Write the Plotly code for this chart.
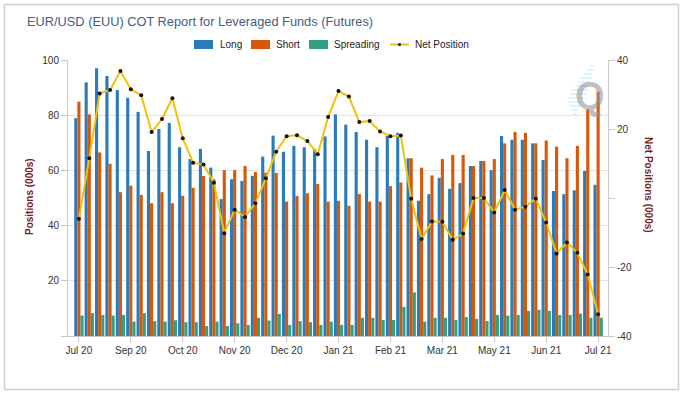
import plotly.graph_objects as go

tick_labels = ["Jul 20", "Sep 20", "Oct 20", "Nov 20", "Dec 20", "Jan 21",
               "Feb 21", "Mar 21", "May 21", "Jun 21", "Jul 21"]

long_vals = [78.9, 91.9, 97.0, 94.2, 89.1, 86.3, 81.2, 67.0, 75.0, 77.2,
             68.4, 64.1, 67.8, 61.0, 49.6, 56.8, 56.2, 58.0, 65.0, 72.6,
             66.8, 68.9, 68.4, 67.8, 72.3, 80.3, 76.6, 73.9, 71.1, 68.4,
             72.5, 73.6, 64.4, 49.0, 51.4, 57.3, 53.3, 55.4, 61.6, 63.4,
             60.1, 72.5, 71.1, 71.1, 69.8, 63.8, 52.5, 51.4, 52.8, 59.8,
             54.8]
short_vals = [84.9, 80.3, 66.5, 62.4, 52.1, 54.5, 51.1, 48.1, 52.1, 48.1,
              50.8, 53.7, 58.0, 56.8, 60.1, 60.1, 61.6, 59.4, 59.2, 59.1,
              48.7, 50.7, 51.7, 55.1, 48.7, 49.0, 47.2, 51.4, 48.7, 48.7,
              54.3, 55.6, 64.4, 61.0, 58.2, 64.1, 65.6, 65.6, 61.6, 63.4,
              64.1, 69.8, 73.9, 73.6, 69.8, 70.8, 68.6, 64.4, 68.9, 82.2,
              88.5]
spread_vals = [7.4, 8.3, 7.6, 7.4, 7.6, 5.2, 8.3, 5.4, 5.2, 5.7,
               5.0, 5.0, 3.6, 5.2, 3.6, 4.6, 4.0, 6.6, 5.6, 8.0,
               4.0, 5.4, 5.0, 4.0, 5.2, 4.0, 4.0, 6.6, 6.6, 5.8,
               5.8, 10.5, 15.8, 5.2, 6.6, 6.6, 5.8, 6.9, 6.2, 5.4,
               7.6, 7.4, 7.6, 9.1, 9.5, 9.1, 7.6, 7.6, 8.1, 6.6,
               6.6]
net_vals = [-6.0, 11.5, 30.3, 31.3, 36.8, 31.5, 29.8, 19.1, 22.9, 28.9,
            17.3, 10.2, 9.7, 4.4, -10.2, -3.4, -5.5, -1.5, 5.7, 13.4,
            17.9, 18.2, 16.5, 12.7, 23.5, 31.0, 29.4, 22.0, 22.3, 19.3,
            17.9, 18.1, -0.2, -11.9, -6.8, -6.9, -12.1, -10.3, 0.0, 0.0,
            -4.2, 2.3, -3.4, -2.5, -0.2, -7.1, -16.1, -12.9, -15.9, -22.2,
            -33.7]

series_names = ["Long", "Short", "Spreading", "Net Position"]
series_colors = ["#2b7bba", "#d75808", "#32a082", "#f2c10a"]

n = len(long_vals)
xs = list(range(n))
tick_idx = list(range(0, n, 5))

W, H = 682, 394
L, R, T, B = 68, 608, 60, 336
pw, ph = R - L, B - T


def px(x):
    return (x - L) / pw


def py(y):
    return (B - y) / ph


FONT = "Liberation Sans, Arial, sans-serif"

fig = go.Figure()
for name, vals, col in zip(series_names[:3], [long_vals, short_vals, spread_vals],
                           series_colors[:3]):
    fig.add_trace(go.Bar(x=xs, y=vals, name=name, marker_color=col,
                         marker_line_width=0, showlegend=False))
fig.add_trace(go.Scatter(x=xs, y=net_vals, name=series_names[3], yaxis="y2",
                         mode="lines+markers", showlegend=False,
                         line=dict(color=series_colors[3], width=2),
                         marker=dict(color="#111111", size=4)))

shapes = [dict(type="rect", xref="paper", yref="paper",
               x0=px(4.5), x1=px(678.5), y0=py(389.5), y1=py(4.5),
               line=dict(color="#d0d0d0", width=1.5), layer="below")]
annotations = []

# custom legend (swatch positions in pixels)
leg_y = 44.5
leg_items = [(194, 218), (251, 274), (309, 332), (390, 413)]
for i, ((sx, tx), name, col) in enumerate(zip(leg_items, series_names, series_colors)):
    if i < 3:
        shapes.append(dict(type="rect", xref="paper", yref="paper",
                           x0=px(sx), x1=px(sx + 19), y0=py(leg_y + 4.5),
                           y1=py(leg_y - 4.5), fillcolor=col, line=dict(width=0)))
    else:
        shapes.append(dict(type="line", xref="paper", yref="paper",
                           x0=px(sx), x1=px(sx + 19), y0=py(leg_y), y1=py(leg_y),
                           line=dict(color=col, width=2)))
        shapes.append(dict(type="circle", xref="paper", yref="paper",
                           x0=px(sx + 8), x1=px(sx + 11), y0=py(leg_y + 1.5),
                           y1=py(leg_y - 1.5), fillcolor="#111111",
                           line=dict(width=0)))
    annotations.append(dict(text=name, xref="paper", yref="paper", x=px(tx),
                            y=py(leg_y), xanchor="left", yanchor="middle",
                            showarrow=False,
                            font=dict(size=10, color="#222222", family=FONT)))

# watermark stripes
stripe_rows = [(66, 590, 594), (70, 587, 593), (74, 584, 592), (78, 581, 591),
               (82, 578, 590), (86, 575, 589), (90, 572, 588), (94, 570, 586),
               (98, 568, 584), (102, 567, 582), (106, 569, 580), (110, 571, 578),
               (114, 573, 577), (118, 575, 577)]
for yy, x0, x1 in stripe_rows:
    shapes.append(dict(type="line", xref="paper", yref="paper",
                       x0=px(x0), x1=px(x1), y0=py(yy), y1=py(yy),
                       line=dict(color="#c6ecfa", width=1.2)))

annotations += [
    dict(text="<b>Positions (000s)</b>", xref="paper", yref="paper",
         x=px(29), y=py(197), xanchor="center", yanchor="middle",
         textangle=-90, showarrow=False,
         font=dict(size=10, color="#7a1c1c", family=FONT)),
    dict(text="<b>Net Positions (000s)</b>", xref="paper", yref="paper",
         x=px(649), y=py(185), xanchor="center", yanchor="middle",
         textangle=90, showarrow=False,
         font=dict(size=10, color="#7a1c1c", family=FONT)),
    dict(text="<b>Q</b>", xref="paper", yref="paper",
         x=px(590), y=py(96), xanchor="center", yanchor="middle",
         showarrow=False,
         font=dict(size=38, color="rgba(150,150,150,0.6)", family=FONT)),
]

fig.update_layout(
    width=W, height=H,
    margin=dict(l=L, r=W - R, t=T, b=H - B, pad=0),
    paper_bgcolor="white", plot_bgcolor="white",
    font=dict(family=FONT, size=10, color="#333333"),
    barmode="group", bargap=0.1, bargroupgap=0.0,
    showlegend=False,
    title=dict(text="EUR/USD (EUU) COT Report for Leveraged Funds (Futures)",
               x=27 / W, xanchor="left", y=1 - 22 / H, yanchor="middle",
               font=dict(size=12.8, color="#3f5d85", family=FONT)),
    xaxis=dict(range=[-1.05, n - 0.05], tickmode="array", tickvals=tick_idx,
               ticktext=tick_labels, showgrid=False, showline=True,
               linecolor="#c8c8c8", ticks="outside", ticklen=5, tickcolor="#c8c8c8",
               zeroline=False, tickfont=dict(size=10, color="#333333")),
    yaxis=dict(range=[0, 100], tickvals=[0, 20, 40, 60, 80, 100],
               ticktext=["", "20", "40", "60", "80", "100"],
               showgrid=True, gridcolor="#e3e3e3", gridwidth=1,
               showline=True, linecolor="#c8c8c8", ticks="outside", ticklen=6,
               tickcolor="#c8c8c8", zeroline=False,
               tickfont=dict(size=10, color="#333333")),
    yaxis2=dict(range=[-40, 40], overlaying="y", side="right",
                tickvals=[-40, -20, 0, 20, 40],
                ticktext=["-40", "-20", "", "20", "40"],
                showgrid=False, showline=True, linecolor="#c8c8c8",
                ticks="outside", ticklen=6, tickcolor="#c8c8c8", zeroline=False,
                tickfont=dict(size=10, color="#333333")),
    shapes=shapes,
    annotations=annotations,
)

fig.write_html("out.html", config={"displayModeBar": False},
               post_script="document.body.style.margin='0';"
                           "document.body.style.overflow='hidden';")
